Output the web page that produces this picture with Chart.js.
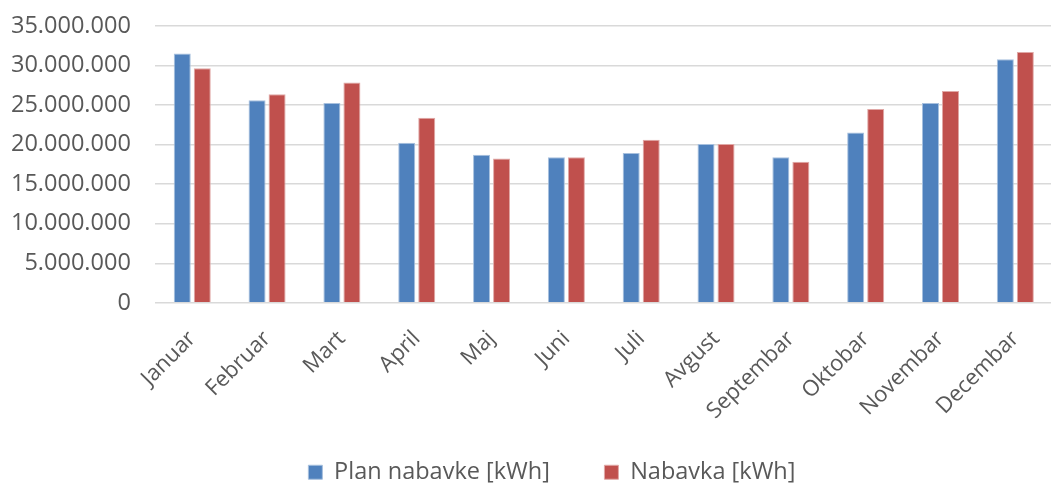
<!DOCTYPE html>
<html>
<head>
<meta charset="utf-8">
<script src="https://cdn.jsdelivr.net/npm/chart.js@4/dist/chart.umd.min.js"></script>
<style>
html,body{margin:0;padding:0;background:#fff;overflow:hidden;}
#wrap{width:1051px;height:489px;position:relative;overflow:hidden;}
#c{position:absolute;left:-13px;top:-12px;}
</style>
</head>
<body>
<div id="wrap"><canvas id="c" width="1070" height="506"></canvas></div>
<script>
const categories = ["Januar","Februar","Mart","April","Maj","Juni","Juli","Avgust","Septembar","Oktobar","Novembar","Decembar"];
const planNabavke = [31520000,25610000,25280000,20250000,18740000,18400000,18950000,20080000,18400000,21550000,25280000,30820000];
const nabavka = [29680000,26370000,27880000,23400000,18240000,18400000,20630000,20080000,17860000,24530000,26790000,31740000];
const seriesNames = ["Plan nabavke [kWh]","Nabavka [kWh]"];
const yTicks = [0,5000000,10000000,15000000,20000000,25000000,30000000,35000000];

function fmt(v){ return String(Math.round(v)).replace(/\B(?=(\d{3})+(?!\d))/g, "."); }

new Chart(document.getElementById('c'), {
  type: 'bar',
  data: {
    labels: categories,
    datasets: [
      {label: seriesNames[0], data: planNabavke, backgroundColor: '#4F81BD', borderColor: '#A7C0DE', borderWidth: 1, categoryPercentage: 0.535, barPercentage: 0.85},
      {label: seriesNames[1], data: nabavka, backgroundColor: '#C0504D', borderColor: '#E0A8A6', borderWidth: 1, categoryPercentage: 0.535, barPercentage: 0.85}
    ]
  },
  options: {
    responsive: false,
    animation: false,
    layout: {padding: {top: 0, right: 0, left: 0, bottom: 0}},
    plugins: {
      legend: {
        position: 'bottom',
        fullSize: false,
        labels: {
          font: {family: "'Open Sans'", size: 23.5},
          color: '#595959',
          boxWidth: 14, boxHeight: 14,
          padding: 24,
          generateLabels: (chart) => {
            const items = Chart.defaults.plugins.legend.labels.generateLabels(chart);
            items[0].text += ' '.repeat(5);
            items[items.length - 1].text += ' '.repeat(17);
            return items;
          }
        }
      },
      tooltip: {enabled: false}
    },
    scales: {
      x: {
        grid: {display: false, drawTicks: false},
        border: {display: false},
        afterFit: (s) => { s.height -= 11; },
        ticks: {
          font: {family: "'Open Sans'", size: 22},
          color: '#595959',
          maxRotation: 45, minRotation: 45,
          padding: 23
        }
      },
      y: {
        min: 0, max: 35000000,
        afterBuildTicks: (s) => { s.ticks = yTicks.map(v => ({value: v})); },
        grid: {color: '#D9D9D9', lineWidth: 1.5, drawTicks: false},
        border: {display: false},
        ticks: {
          font: {family: "'Open Sans'", size: 23.5},
          color: '#595959',
          padding: 24,
          callback: (v) => fmt(v)
        }
      }
    }
  }
});
</script>
</body>
</html>
